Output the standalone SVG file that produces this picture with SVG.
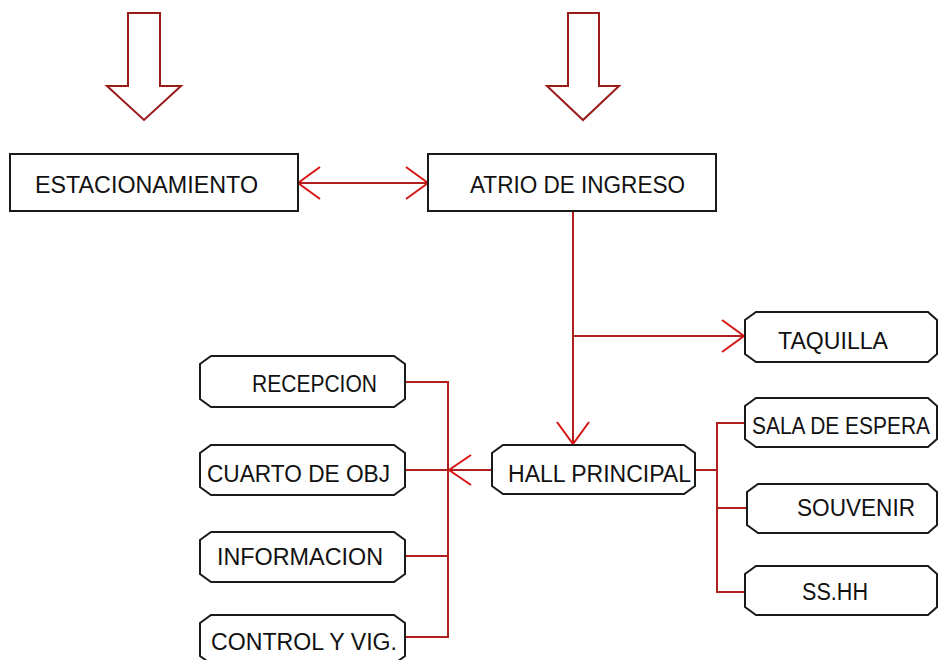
<svg xmlns="http://www.w3.org/2000/svg" width="939" height="660" viewBox="0 0 939 660">
<defs>
<style>
.box{fill:#fff;stroke:#1a1a1a;stroke-width:2}
.blk{fill:#fff;stroke:#9b1a1a;stroke-width:2;stroke-linejoin:miter}
.ln{fill:none;stroke:#b01e1e;stroke-width:2}
.hd{fill:none;stroke:#d81414;stroke-width:2}
text{font-family:"Liberation Sans",Arial,sans-serif;font-size:23px;fill:#111}
</style>
</defs>
<rect width="939" height="660" fill="#fff"/>
<g id="arrow-left">
<polygon class="blk" points="128,13 160,13 160,86 181,86 144,120 107,86 128,86"/>
</g>
<g id="arrow-right">
<polygon class="blk" points="568,13 599,13 599,86 619,86 583,120 547,86 568,86"/>
</g>
<g id="connectors">
<line class="ln" x1="298" y1="183" x2="428" y2="183"/>
<polyline class="hd" points="320,167 298,183 320,199"/>
<polyline class="hd" points="406,167 428,183 406,199"/>
<line class="ln" x1="573" y1="211" x2="573" y2="444"/>
<polyline class="hd" points="557,422 573,444 589,422"/>
<line class="ln" x1="573" y1="336" x2="744" y2="336"/>
<polyline class="hd" points="722,320 744,336 722,352"/>
<line class="ln" x1="492" y1="470" x2="449" y2="470"/>
<polyline class="hd" points="471,455 449,470 471,485"/>
<polyline class="ln" points="405,382 448,382 448,637 405,637"/>
<line class="ln" x1="405" y1="470" x2="448" y2="470"/>
<line class="ln" x1="405" y1="556" x2="448" y2="556"/>
<line class="ln" x1="695" y1="470" x2="717" y2="470"/>
<polyline class="ln" points="745,423 717,423 717,592 745,592"/>
<line class="ln" x1="717" y1="508" x2="747" y2="508"/>
</g>
<g id="estacionamiento">
<rect class="box" x="10" y="154" width="288" height="57"/>
<text x="35" y="193" textLength="223" lengthAdjust="spacingAndGlyphs">ESTACIONAMIENTO</text>
</g>
<g id="atrio">
<rect class="box" x="428" y="154" width="288" height="57"/>
<text x="470" y="193" textLength="215" lengthAdjust="spacingAndGlyphs">ATRIO DE INGRESO</text>
</g>
<g id="taquilla">
<polygon class="box" points="756,312 928,312 937,320 937,354 928,362 756,362 745,354 745,320"/>
<text x="778" y="349" textLength="110" lengthAdjust="spacingAndGlyphs">TAQUILLA</text>
</g>
<g id="sala">
<polygon class="box" points="756,398 928,398 937,406 937,439 928,447 756,447 745,439 745,406"/>
<text x="752" y="434" font-size="20" textLength="178" lengthAdjust="spacingAndGlyphs">SALA DE ESPERA</text>
</g>
<g id="souvenir">
<polygon class="box" points="758,484 928,484 937,492 937,525 928,533 758,533 747,525 747,492"/>
<text x="797" y="516" textLength="118" lengthAdjust="spacingAndGlyphs">SOUVENIR</text>
</g>
<g id="sshh">
<polygon class="box" points="756,566 928,566 937,574 937,607 928,615 756,615 745,607 745,574"/>
<text x="802" y="600" textLength="66" lengthAdjust="spacingAndGlyphs">SS.HH</text>
</g>
<g id="hall">
<polygon class="box" points="503,445 684,445 695,453 695,486 684,494 503,494 492,486 492,453"/>
<text x="508" y="482" textLength="183" lengthAdjust="spacingAndGlyphs">HALL PRINCIPAL</text>
</g>
<g id="recepcion">
<polygon class="box" points="211,356 394,356 405,364 405,399 394,407 211,407 200,399 200,364"/>
<text x="252" y="392" textLength="125" lengthAdjust="spacingAndGlyphs">RECEPCION</text>
</g>
<g id="cuarto">
<polygon class="box" points="211,445 394,445 405,453 405,487 394,495 211,495 200,487 200,453"/>
<text x="207" y="482" textLength="183" lengthAdjust="spacingAndGlyphs">CUARTO DE OBJ</text>
</g>
<g id="informacion">
<polygon class="box" points="211,532 394,532 405,540 405,574 394,582 211,582 200,574 200,540"/>
<text x="217" y="565" textLength="166" lengthAdjust="spacingAndGlyphs">INFORMACION</text>
</g>
<g id="control">
<polygon class="box" points="211,615 394,615 405,623 405,656 394,664 211,664 200,656 200,623"/>
<text x="211" y="650" textLength="186" lengthAdjust="spacingAndGlyphs">CONTROL Y VIG.</text>
</g>
</svg>
